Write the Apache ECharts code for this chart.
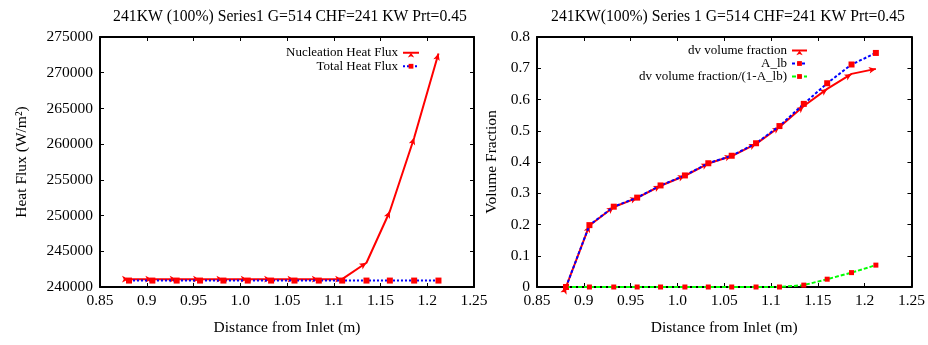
<!DOCTYPE html>
<html>
<head>
<meta charset="utf-8">
<script src="https://cdn.jsdelivr.net/npm/echarts@6/dist/echarts.min.js"></script>
<style>html,body{margin:0;padding:0;background:#fff}#c{width:928px;height:345px}</style>
</head>
<body>
<div id="c"></div>
<script>
// ---- data ----
const distance = [0.881, 0.906, 0.932, 0.957, 0.982, 1.008, 1.033, 1.058, 1.084, 1.109, 1.135, 1.160, 1.186, 1.212];
const nucleationHeatFlux = [241100, 241100, 241100, 241100, 241100, 241100, 241100, 241100, 241100, 241100, 243400, 250600, 260900, 272700];
const totalHeatFlux = [240900, 240900, 240900, 240900, 240900, 240900, 240900, 240900, 240900, 240900, 240900, 240900, 240900, 240900];
const dvVolumeFraction = [0.0, 0.197, 0.256, 0.285, 0.324, 0.356, 0.395, 0.419, 0.458, 0.512, 0.579, 0.634, 0.682, 0.698];
const aLb = [0.0, 0.198, 0.257, 0.286, 0.325, 0.357, 0.396, 0.420, 0.460, 0.515, 0.586, 0.652, 0.712, 0.749];
const dvOverOneMinusALb = [0, 0, 0, 0, 0, 0, 0, 0, 0, 0, 0.006, 0.025, 0.046, 0.070];
const xTickLabels = ['0.85', '0.9', '0.95', '1.0', '1.05', '1.1', '1.15', '1.2', '1.25'];
const heatTickLabels = ['240000', '245000', '250000', '255000', '260000', '265000', '270000', '275000'];
const fracTickLabels = ['0', '0.1', '0.2', '0.3', '0.4', '0.5', '0.6', '0.7', '0.8'];
const titles = ['241KW (100%) Series1 G=514 CHF=241 KW Prt=0.45', '241KW(100%) Series 1 G=514 CHF=241 KW Prt=0.45'];

const FONT = "'Liberation Serif','Times New Roman',serif";
const pairs = (xs, ys) => xs.map((x, i) => [x, ys[i]]);
const axisLine = { show: true, onZero: false, lineStyle: { color: '#000', width: 2 } };
const tick = { show: true, inside: true, length: 4, lineStyle: { color: '#000', width: 1 } };

function xAxes(gi) {
  return [{
    type: 'value', gridIndex: gi, min: 0.85, max: 1.25, interval: 0.05,
    axisLine, axisTick: tick, splitLine: { show: false },
    axisLabel: { color: '#000', fontFamily: FONT, fontSize: 15.5, margin: 6,
      formatter: v => xTickLabels[Math.round((v - 0.85) / 0.05)] },
    name: 'Distance from Inlet (m)', nameLocation: 'middle', nameGap: 33,
    nameTextStyle: { color: '#000', fontFamily: FONT, fontSize: 15.5 }
  }, {
    type: 'value', gridIndex: gi, position: 'top', min: 0.85, max: 1.25, interval: 0.05,
    axisLine, axisTick: tick, axisLabel: { show: false }, splitLine: { show: false }
  }];
}
function yAxes(gi, min, max, interval, labels, name, gap) {
  return [{
    type: 'value', gridIndex: gi, min, max, interval,
    axisLine, axisTick: tick, splitLine: { show: false },
    axisLabel: { color: '#000', fontFamily: FONT, fontSize: 15.5, margin: 7,
      formatter: v => labels[Math.round((v - min) / interval)] },
    name, nameLocation: 'middle', nameGap: gap,
    nameTextStyle: { color: '#000', fontFamily: FONT, fontSize: 15.5 }
  }, {
    type: 'value', gridIndex: gi, position: 'right', min, max, interval,
    axisLine, axisTick: tick, axisLabel: { show: false }, splitLine: { show: false }
  }];
}

const option = {
  animation: false,
  backgroundColor: '#fff',
  title: [
    { text: titles[0], left: 285, top: 4, textAlign: 'center',
      textStyle: { fontFamily: FONT, fontSize: 15.7, fontWeight: 'normal', color: '#000' } },
    { text: titles[1], left: 723, top: 4, textAlign: 'center',
      textStyle: { fontFamily: FONT, fontSize: 15.7, fontWeight: 'normal', color: '#000' } }
  ],
  grid: [
    { left: 100, right: 454, top: 37, bottom: 58 },
    { left: 537, right: 14, top: 37, bottom: 58 }
  ],
  legend: [
    { data: ['Nucleation Heat Flux', 'Total Heat Flux'], orient: 'vertical', right: 508, top: 46,
      align: 'right', itemWidth: 16, itemHeight: 6, itemGap: 0, padding: 0,
      textStyle: { fontFamily: FONT, fontSize: 13, color: '#000', lineHeight: 13.5 } },
    { data: ['dv volume fraction', 'A_lb', 'dv volume fraction/(1-A_lb)'], orient: 'vertical', right: 120, top: 44,
      align: 'right', itemWidth: 15, itemHeight: 6, itemGap: 0, padding: 0,
      textStyle: { fontFamily: FONT, fontSize: 13, color: '#000', lineHeight: 12.8 } }
  ],
  xAxis: [...xAxes(0), ...xAxes(1)],
  yAxis: [...yAxes(0, 240000, 275000, 5000, heatTickLabels, 'Heat Flux (W/m²)', 70),
          ...yAxes(1, 0, 0.8, 0.1, fracTickLabels, 'Volume Fraction', 37)],
  series: [
    { name: 'Nucleation Heat Flux', type: 'line', xAxisIndex: 0, yAxisIndex: 0,
      data: pairs(distance, nucleationHeatFlux), symbol: 'arrow', symbolSize: [5, 7],
      itemStyle: { color: '#ff0000' }, lineStyle: { color: '#ff0000', width: 2 }, z: 2 },
    { name: 'Total Heat Flux', type: 'line', xAxisIndex: 0, yAxisIndex: 0,
      data: pairs(distance, totalHeatFlux), symbol: 'rect', symbolSize: 6,
      itemStyle: { color: '#ff0000' }, lineStyle: { color: '#0000ff', width: 2, type: [2, 2] }, z: 3 },
    { name: 'dv volume fraction', type: 'line', xAxisIndex: 2, yAxisIndex: 2,
      data: pairs(distance, dvVolumeFraction), symbol: 'arrow', symbolSize: [5, 7],
      itemStyle: { color: '#ff0000' }, lineStyle: { color: '#ff0000', width: 2 }, z: 2 },
    { name: 'A_lb', type: 'line', xAxisIndex: 2, yAxisIndex: 2,
      data: pairs(distance, aLb), symbol: 'rect', symbolSize: 6,
      itemStyle: { color: '#ff0000' }, lineStyle: { color: '#0000ff', width: 2, type: [3, 2] }, z: 3 },
    { name: 'dv volume fraction/(1-A_lb)', type: 'line', xAxisIndex: 2, yAxisIndex: 2,
      data: pairs(distance, dvOverOneMinusALb), symbol: 'rect', symbolSize: 5,
      itemStyle: { color: '#ff0000' }, lineStyle: { color: '#00ff00', width: 2, type: [4, 2] }, z: 4 }
  ]
};

const chart = echarts.init(document.getElementById('c'), null, { renderer: 'canvas' });
chart.setOption(option);

// orient arrow markers along the incoming segment, using the chart's own scales
function orient(xs, ys, gi) {
  const px = xs.map((x, i) => chart.convertToPixel({ gridIndex: gi }, [x, ys[i]]));
  return xs.map((x, i) => {
    const a = i > 0 ? px[i - 1] : px[i];
    const b = i > 0 ? px[i] : px[i + 1];
    const ang = Math.atan2(-(b[1] - a[1]), b[0] - a[0]) * 180 / Math.PI;
    return { value: [x, ys[i]], symbolRotate: ang - 90 };
  });
}
chart.setOption({ series: [
  { name: 'Nucleation Heat Flux', data: orient(distance, nucleationHeatFlux, 0) },
  { name: 'Total Heat Flux' },
  { name: 'dv volume fraction', data: orient(distance, dvVolumeFraction, 1) },
  { name: 'A_lb' },
  { name: 'dv volume fraction/(1-A_lb)' }
] });
</script>
</body>
</html>
